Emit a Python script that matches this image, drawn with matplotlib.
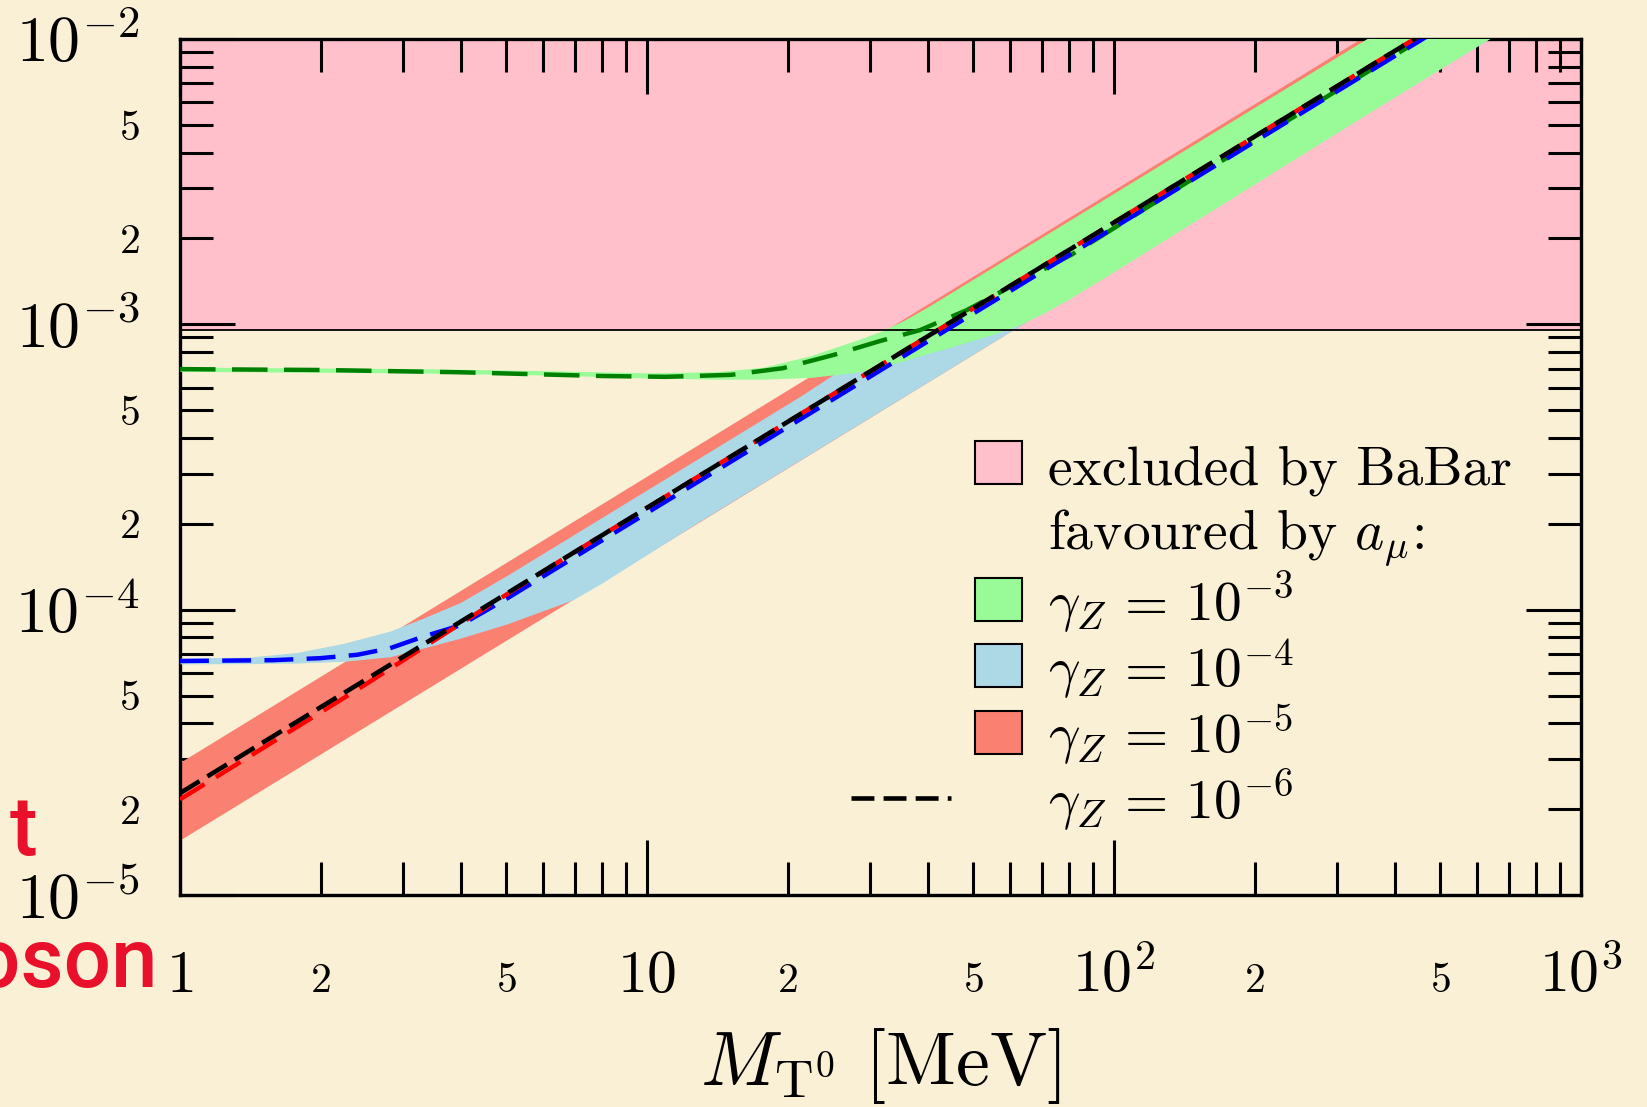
import numpy as np
import matplotlib.pyplot as plt
from matplotlib.patches import Rectangle
from matplotlib.lines import Line2D
from matplotlib.ticker import FixedLocator, FuncFormatter

plt.rcParams['mathtext.fontset'] = 'cm'
plt.rcParams['font.family'] = 'serif'
plt.rcParams['font.serif'] = ['cmr10', 'DejaVu Serif']

bg = '#f9f0d5'

# data, as log10 values (M in MeV, coupling g)
# excluded region (BaBar)
babar_lo = 9.55e-4
babar_hi = 1e-2

# gamma_Z = 1e-3 band and centre line
lgm_green_band = [0, 0.5, 0.8, 1.0, 1.15, 1.25, 1.35, 1.45, 1.5, 1.55, 1.6, 1.65,
                  1.7, 1.75, 1.8, 1.85, 1.9, 2.0, 2.5, 3.0]
lg_green_up = [-3.150, -3.155, -3.163, -3.170, -3.166, -3.150, -3.110, -3.055, -3.025,
               -2.986, -2.940, -2.890, -2.840, -2.790, -2.740, -2.690, -2.640, -2.540,
               -2.040, -1.540]
lg_green_lo = [-3.165, -3.170, -3.178, -3.188, -3.192, -3.192, -3.186, -3.168, -3.150,
               -3.128, -3.103, -3.080, -3.055, -3.030, -3.000, -2.960, -2.915, -2.815,
               -2.305, -1.800]
lgm_green = [0, 0.3, 0.6, 0.9, 1.04, 1.18, 1.29, 1.4, 1.5, 1.585, 1.685, 1.79, 1.91, 2.2, 2.7]
lg_green = [-3.157, -3.160, -3.168, -3.181, -3.184, -3.177, -3.154, -3.107, -3.058,
            -3.020, -2.950, -2.858, -2.755, -2.458, -1.958]

# gamma_Z = 1e-4
lgm_blue_band = [0, 0.15, 0.25, 0.35, 0.45, 0.52, 0.6, 0.7, 0.84, 0.9, 1.11,
                 1.33, 1.6, 2.0, 3.0]
lg_blue_up = [-4.170, -4.166, -4.150, -4.118, -4.075, -4.030, -3.975, -3.880, -3.740,
              -3.680, -3.470, -3.250, -2.960, -2.550, -1.540]
lg_blue_lo = [-4.190, -4.189, -4.187, -4.181, -4.165, -4.135, -4.100, -4.050, -3.966,
              -3.910, -3.693, -3.473, -3.203, -2.803, -1.803]
lgm_blue = [0, 0.2, 0.3, 0.38, 0.45, 0.52, 0.6, 0.7, 1.0, 2.7]
lg_blue = [-4.180, -4.177, -4.170, -4.158, -4.135, -4.095, -4.055, -3.961, -3.661, -1.961]

# gamma_Z = 1e-5
lgm_red_band = [0, 3.0]
lg_red_up = [-4.535, -1.525]
lg_red_lo = [-4.807, -1.800]
lgm_red = [0, 0.38, 0.64, 0.8, 2.7]
lg_red = [-4.665, -4.280, -4.008, -3.843, -1.943]

# gamma_Z = 1e-6
lgm_black = [0, 2.7]
lg_black = [-4.643, -1.943]

def p10(v):
    return 10 ** np.array(v)

fig = plt.figure(figsize=(16.47, 11.07), dpi=100, facecolor=bg)
ax = fig.add_axes([0.10929, 0.19151, 0.85064, 0.77326])
ax.set_facecolor(bg)
ax.set_xscale('log')
ax.set_yscale('log')

ax.axhspan(babar_lo, babar_hi, color='pink', lw=0, zorder=1)
ax.fill_between(p10(lgm_red_band), p10(lg_red_lo), p10(lg_red_up), color='salmon', lw=0, zorder=2)
ax.fill_between(p10(lgm_blue_band), p10(lg_blue_lo), p10(lg_blue_up), color='lightblue', lw=0, zorder=3)
ax.fill_between(p10(lgm_green_band), p10(lg_green_lo), p10(lg_green_up), color='palegreen', lw=0, zorder=4)
ax.axhline(babar_lo, color='black', lw=1.3, zorder=5)

ax.plot(p10(lgm_green), p10(lg_green), color='green', lw=3.2, dashes=(8, 3.7), zorder=6)
ax.plot(p10(lgm_blue), p10(lg_blue), color='blue', lw=3.2, dashes=(6.5, 3), zorder=7)
ax.plot(p10(lgm_red), p10(lg_red), color='red', lw=3.2, dashes=(6.5, 3), zorder=8)
ax.plot(p10(lgm_black), p10(lg_black), color='black', lw=3.3, dashes=(5, 2), zorder=9)

ax.set_xlim(1, 1000)
ax.set_ylim(1e-5, 1e-2)

# ticks
x_major = [1, 10, 100, 1000]
x_major_lab = ['$1$', '$10$', '$10^2$', '$10^3$']
y_major = [1e-5, 1e-4, 1e-3, 1e-2]
y_major_lab = ['$10^{-5}$', '$10^{-4}$', '$10^{-3}$', '$10^{-2}$']
x_minor = [k * 10 ** d for d in range(3) for k in range(2, 10)]
y_minor = [k * 10.0 ** d for d in range(-5, -2) for k in range(2, 10)]

def minor_fmt(v, pos):
    k = round(v / 10 ** np.floor(np.log10(v) + 1e-9))
    return '$%d$' % k if k in (2, 5) else ''

ax.xaxis.set_major_locator(FixedLocator(x_major))
ax.xaxis.set_major_formatter(FuncFormatter(lambda v, p: x_major_lab[int(round(np.log10(v)))]))
ax.xaxis.set_minor_locator(FixedLocator(x_minor))
ax.xaxis.set_minor_formatter(FuncFormatter(minor_fmt))
ax.yaxis.set_major_locator(FixedLocator(y_major))
ax.yaxis.set_major_formatter(FuncFormatter(lambda v, p: y_major_lab[int(round(np.log10(v))) + 5]))
ax.yaxis.set_minor_locator(FixedLocator(y_minor))
ax.yaxis.set_minor_formatter(FuncFormatter(minor_fmt))

ax.tick_params(which='both', direction='in', top=True, right=True, width=2.2, color='black')
ax.tick_params(which='major', length=39.5)
ax.tick_params(which='minor', length=23.8, labelsize=30)
ax.tick_params(axis='x', which='major', labelsize=43)
ax.tick_params(axis='y', which='major', labelsize=46)
ax.tick_params(axis='x', which='both', pad=70)
ax.tick_params(axis='y', which='both', pad=29)
for t in ax.xaxis.get_major_ticks() + ax.xaxis.get_minor_ticks():
    t.label1.set_verticalalignment('baseline')
for s in ax.spines.values():
    s.set_linewidth(2.4)

ax.set_xlabel(r'$M_{\mathrm{T}^0}\ [\mathrm{MeV}]$', fontsize=55)
ax.xaxis.label.set_verticalalignment('baseline')
ax.xaxis.set_label_coords(0.5, -0.222)

# legend drawn by hand
sq_x, sq_w, sq_h = 0.5675, 0.0335, 0.0502
txt_x = 0.6196
rows = [(0.480, 'pink', 'excluded by BaBar'),
        (0.404, None, r'favoured by $a_\mu$:'),
        (0.320, 'palegreen', r'$\gamma_Z\,=\,10^{-3}$'),
        (0.243, 'lightblue', r'$\gamma_Z\,=\,10^{-4}$'),
        (0.165, 'salmon', r'$\gamma_Z\,=\,10^{-5}$'),
        (0.0888, None, r'$\gamma_Z\,=\,10^{-6}$')]
for yb, col, lab in rows:
    if col is not None:
        ax.add_patch(Rectangle((sq_x, yb), sq_w, sq_h, transform=ax.transAxes,
                               facecolor=col, edgecolor='black', lw=1.5, zorder=10))
    ax.text(txt_x, yb, lab, transform=ax.transAxes, fontsize=40, va='baseline', ha='left', zorder=10)
ax.add_line(Line2D([0.479, 0.550], [0.113, 0.113], transform=ax.transAxes,
                   color='black', lw=3.3, dashes=(5, 2), zorder=10))

# slide text peeking in at the left edge
fig.text(37 / 1647, 1 - 855 / 1107, 't', color='#e8102a', fontsize=60, family='Roboto',
         weight='medium', ha='right', va='baseline')
fig.text(158 / 1647, 1 - 987 / 1107, 'boson', color='#e8102a', fontsize=60, family='Roboto',
         weight='medium', ha='right', va='baseline')

fig.savefig('out.png', dpi=100, facecolor=bg)
